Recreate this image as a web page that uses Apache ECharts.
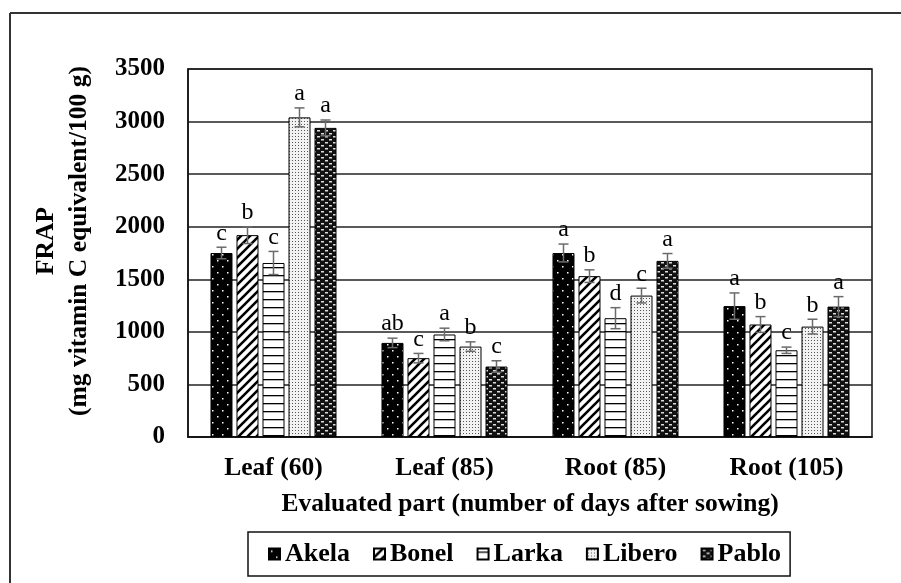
<!DOCTYPE html>
<html>
<head>
<meta charset="utf-8">
<script src="https://cdn.jsdelivr.net/npm/echarts@6/dist/echarts.min.js"></script>
<style>
  html, body { margin: 0; padding: 0; background: #fff; }
  #chart { width: 901px; height: 583px; }
</style>
</head>
<body>
<div id="chart"></div>
<script>
// data
const categories = ['Leaf (60)', 'Leaf (85)', 'Root (85)', 'Root (105)'];
const seriesNames = ['Akela', 'Bonel', 'Larka', 'Libero', 'Pablo'];

const akela = [1750, 895, 1750, 1245];
const bonel = [1920, 750, 1530, 1070];
const larka = [1655, 975, 1130, 825];
const libero = [3040, 860, 1345, 1050];
const pablo = [2940, 670, 1675, 1240];

const akelaErr = [55, 45, 85, 125];
const bonelErr = [80, 45, 60, 75];
const larkaErr = [110, 60, 100, 30];
const liberoErr = [90, 45, 70, 70];
const pabloErr = [75, 55, 70, 95];

const akelaLetters = ['c', 'ab', 'a', 'a'];
const bonelLetters = ['b', 'c', 'b', 'b'];
const larkaLetters = ['c', 'a', 'd', 'c'];
const liberoLetters = ['a', 'b', 'c', 'b'];
const pabloLetters = ['a', 'c', 'a', 'a'];

const yTicks = [0, 500, 1000, 1500, 2000, 2500, 3000, 3500];

const values = [akela, bonel, larka, libero, pablo];
const errors = [akelaErr, bonelErr, larkaErr, liberoErr, pabloErr];
const letters = [akelaLetters, bonelLetters, larkaLetters, liberoLetters, pabloLetters];

const FONT = '"Liberation Serif", "Times New Roman", serif';
const BAR_W = 22;
const BAR_STEP = 26;

// fill patterns
function makeTile(w, h, draw) {
  const c = document.createElement('canvas');
  c.width = w; c.height = h;
  const ctx = c.getContext('2d');
  draw(ctx, w, h);
  return { image: c, repeat: 'repeat' };
}

const patterns = [
  // Akela: black with sparse white dots
  makeTile(10, 12, (ctx) => {
    ctx.fillStyle = '#000'; ctx.fillRect(0, 0, 10, 12);
    ctx.fillStyle = '#fff';
    ctx.fillRect(2, 2, 1.5, 1.5);
    ctx.fillRect(7, 8, 1.5, 1.5);
  }),
  // Bonel: thick diagonal stripes
  makeTile(9, 9, (ctx) => {
    ctx.fillStyle = '#fff'; ctx.fillRect(0, 0, 9, 9);
    ctx.strokeStyle = '#000'; ctx.lineWidth = 2.6;
    ctx.beginPath();
    ctx.moveTo(-1, 10); ctx.lineTo(10, -1);
    ctx.moveTo(-1, 1); ctx.lineTo(1, -1);
    ctx.moveTo(8, 10); ctx.lineTo(10, 8);
    ctx.stroke();
  }),
  // Larka: horizontal lines
  makeTile(8, 8, (ctx) => {
    ctx.fillStyle = '#fff'; ctx.fillRect(0, 0, 8, 8);
    ctx.fillStyle = '#000'; ctx.fillRect(0, 3, 8, 1.3);
  }),
  // Libero: fine dots
  makeTile(3, 3, (ctx) => {
    ctx.fillStyle = '#f2f2f2'; ctx.fillRect(0, 0, 3, 3);
    ctx.fillStyle = '#555'; ctx.fillRect(1, 1, 1, 1);
  }),
  // Pablo: dark weave
  makeTile(8, 6, (ctx) => {
    ctx.fillStyle = '#111'; ctx.fillRect(0, 0, 8, 6);
    ctx.fillStyle = '#ddd';
    ctx.fillRect(1, 1, 3, 1.5);
    ctx.fillRect(5, 4, 3, 1.5);
  })
];

const barSeries = seriesNames.map((name, i) => ({
  name: name,
  type: 'bar',
  data: values[i],
  barWidth: BAR_W,
  barGap: ((BAR_STEP - BAR_W) / BAR_W * 100).toFixed(1) + '%',
  itemStyle: { color: patterns[i], borderColor: '#000', borderWidth: 1 },
  emphasis: { disabled: true },
  z: 2
}));

const errData = [];
for (let s = 0; s < values.length; s++) {
  for (let c = 0; c < categories.length; c++) {
    errData.push([c, s, values[s][c], errors[s][c]]);
  }
}

const errSeries = {
  type: 'custom',
  data: errData,
  z: 5,
  silent: true,
  renderItem: function (params, api) {
    const cat = api.value(0), s = api.value(1), mean = api.value(2), err = api.value(3);
    const base = api.coord([cat, mean]);
    const x = base[0] + (s - 2) * BAR_STEP;
    const yHi = api.coord([cat, mean + err])[1];
    const yLo = api.coord([cat, mean - err])[1];
    const cap = 5;
    const lineStyle = { stroke: '#6b6b6b', lineWidth: 1.5 };
    return {
      type: 'group',
      children: [
        { type: 'line', shape: { x1: x, y1: yHi, x2: x, y2: yLo }, style: lineStyle },
        { type: 'line', shape: { x1: x - cap, y1: yHi, x2: x + cap, y2: yHi }, style: lineStyle },
        { type: 'line', shape: { x1: x - cap, y1: yLo, x2: x + cap, y2: yLo }, style: lineStyle },
        {
          type: 'text',
          style: {
            x: x, y: yHi - 2,
            text: letters[s][cat],
            fill: '#000',
            font: '24px ' + FONT,
            align: 'center',
            verticalAlign: 'bottom'
          }
        }
      ]
    };
  }
};

const chart = echarts.init(document.getElementById('chart'), null, { renderer: 'canvas' });

chart.setOption({
  animation: false,
  backgroundColor: '#fff',
  textStyle: { fontFamily: FONT },
  grid: {
    left: 188, right: 29, top: 69, bottom: 146,
    show: true, borderColor: '#111', borderWidth: 1.5
  },
  legend: {
    data: seriesNames,
    left: 248, top: 532,
    padding: [9, 9, 9, 20],
    itemGap: 23,
    itemWidth: 11,
    itemHeight: 11,
    icon: 'rect',
    borderColor: '#111',
    borderWidth: 1.5,
    textStyle: { fontFamily: FONT, fontSize: 26, fontWeight: 'bold', color: '#000' }
  },
  xAxis: {
    type: 'category',
    data: categories,
    name: 'Evaluated part (number of days after sowing)',
    nameLocation: 'middle',
    nameGap: 54,
    nameTextStyle: { fontFamily: FONT, fontSize: 25.5, fontWeight: 'bold', color: '#000' },
    axisLine: { lineStyle: { color: '#111', width: 1.5 } },
    axisTick: { show: false },
    axisLabel: { fontFamily: FONT, fontSize: 25.5, fontWeight: 'bold', color: '#000', margin: 18 }
  },
  yAxis: {
    type: 'value',
    min: yTicks[0],
    max: yTicks[yTicks.length - 1],
    interval: yTicks[1] - yTicks[0],
    name: 'FRAP\n(mg vitamin C equivalent/100 g)',
    nameLocation: 'middle',
    nameRotate: 90,
    nameGap: 92,
    nameTextStyle: {
      fontFamily: FONT, fontSize: 25.5, fontWeight: 'bold', color: '#000',
      lineHeight: 33, padding: [0, 0, 0, 24]
    },
    axisLine: { show: true, lineStyle: { color: '#111', width: 1.5 } },
    axisTick: { show: false },
    axisLabel: {
      fontFamily: FONT, fontSize: 25, fontWeight: 'bold', color: '#000', margin: 23,
      formatter: (v) => String(v)
    },
    splitLine: { lineStyle: { color: '#222', width: 1.5 } }
  },
  graphic: [
    { type: 'line', silent: true, shape: { x1: 10, y1: 13, x2: 901, y2: 13 }, style: { stroke: '#333', lineWidth: 2 } },
    { type: 'line', silent: true, shape: { x1: 10, y1: 13, x2: 10, y2: 583 }, style: { stroke: '#333', lineWidth: 2 } }
  ],
  series: barSeries.concat([errSeries])
});

window.addEventListener('resize', () => chart.resize());
</script>
</body>
</html>
